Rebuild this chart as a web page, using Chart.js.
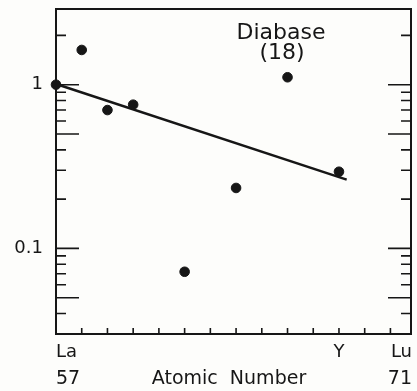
<!DOCTYPE html>
<html>
<head>
<meta charset="utf-8">
<script src="https://cdn.jsdelivr.net/npm/chart.js@4.4.1/dist/chart.umd.min.js"></script>
<style>
  html, body { margin: 0; padding: 0; background: #fdfdfb; }
  #wrap { width: 417px; height: 391px; }
</style>
</head>
<body>
<div id="wrap"><canvas id="reeChart"></canvas></div>
<script>
// chondrite-normalised values, Diabase (18)
const atomicNumbers = [57, 58, 59, 60, 62, 64, 66, 68];
const normValues = [1.0, 1.63, 0.70, 0.755, 0.072, 0.234, 1.11, 0.294];

// fitted line end points
const fitX = [57, 68.3];
const fitY = [1.01, 0.263];

const xTicks = [58, 59, 60, 61, 62, 63, 64, 65, 66, 67, 68, 69, 70];
const yLongTicks = [1, 0.5, 0.1, 0.05];
const yShortTicks = [2, 0.9, 0.8, 0.7, 0.6, 0.4, 0.3, 0.2, 0.09, 0.08, 0.07, 0.06, 0.04];
const yLabelValues = [1, 0.1];
const yLabelText = ['1', '0.1'];

const ink = '#161616';
const font = '"DejaVu Sans", sans-serif';

const framePlugin = {
  id: 'frame',
  beforeDatasetsDraw(chart) {
    const ctx = chart.ctx;
    const a = chart.chartArea;
    const xs = chart.scales.x;
    const ys = chart.scales.y;
    ctx.save();
    ctx.strokeStyle = ink;
    ctx.lineWidth = 2;
    ctx.strokeRect(a.left, a.top, a.right - a.left, a.bottom - a.top);

    ctx.lineWidth = 1.6;
    ctx.beginPath();
    xTicks.forEach(v => {
      const px = xs.getPixelForValue(v);
      ctx.moveTo(px, a.bottom);
      ctx.lineTo(px, a.bottom - 6);
    });
    yLongTicks.forEach(v => {
      const py = ys.getPixelForValue(v);
      ctx.moveTo(a.left, py); ctx.lineTo(a.left + 23, py);
      ctx.moveTo(a.right, py); ctx.lineTo(a.right - 23, py);
    });
    yShortTicks.forEach(v => {
      const py = ys.getPixelForValue(v);
      ctx.moveTo(a.left, py); ctx.lineTo(a.left + 10, py);
      ctx.moveTo(a.right, py); ctx.lineTo(a.right - 10, py);
    });
    ctx.stroke();
    ctx.restore();
  },
  afterDraw(chart) {
    const ctx = chart.ctx;
    const a = chart.chartArea;
    const xs = chart.scales.x;
    const ys = chart.scales.y;
    ctx.save();
    ctx.fillStyle = ink;
    ctx.textBaseline = 'middle';

    ctx.font = '18px ' + font;
    ctx.textAlign = 'right';
    yLabelValues.forEach((v, i) => {
      ctx.fillText(yLabelText[i], a.left - 13, ys.getPixelForValue(v));
    });

    ctx.font = '18px ' + font;
    ctx.textAlign = 'left';
    ctx.fillText('La', a.left, a.bottom + 18);
    ctx.textAlign = 'center';
    ctx.fillText('Y', xs.getPixelForValue(68), a.bottom + 18);
    ctx.textAlign = 'right';
    ctx.fillText('Lu', a.right + 1, a.bottom + 18);

    ctx.font = '19px ' + font;
    ctx.textAlign = 'left';
    ctx.fillText('57', a.left, a.bottom + 45);
    ctx.textAlign = 'right';
    ctx.fillText('71', a.right + 1, a.bottom + 45);
    ctx.textAlign = 'center';
    ctx.fillText('Atomic  Number', 229, a.bottom + 45);

    ctx.font = '22px ' + font;
    ctx.fillText('Diabase', 281, 33);
    ctx.fillText('(18)', 282, 53);
    ctx.restore();
  }
};

new Chart(document.getElementById('reeChart'), {
  type: 'scatter',
  data: {
    datasets: [
      {
        data: atomicNumbers.map((x, i) => ({ x: x, y: normValues[i] })),
        backgroundColor: ink,
        borderColor: ink,
        pointRadius: 4.8,
        clip: false
      },
      {
        data: fitX.map((x, i) => ({ x: x, y: fitY[i] })),
        showLine: true,
        borderColor: ink,
        borderWidth: 2.5,
        pointRadius: 0,
        clip: false
      }
    ]
  },
  options: {
    responsive: true,
    maintainAspectRatio: false,
    animation: false,
    layout: { padding: { left: 56, top: 9, right: 6, bottom: 57 } },
    plugins: { legend: { display: false }, tooltip: { enabled: false } },
    scales: {
      x: { type: 'linear', min: 57, max: 70.8, display: false },
      y: { type: 'logarithmic', min: 0.03, max: 2.9, display: false }
    }
  },
  plugins: [framePlugin]
});
</script>
</body>
</html>
